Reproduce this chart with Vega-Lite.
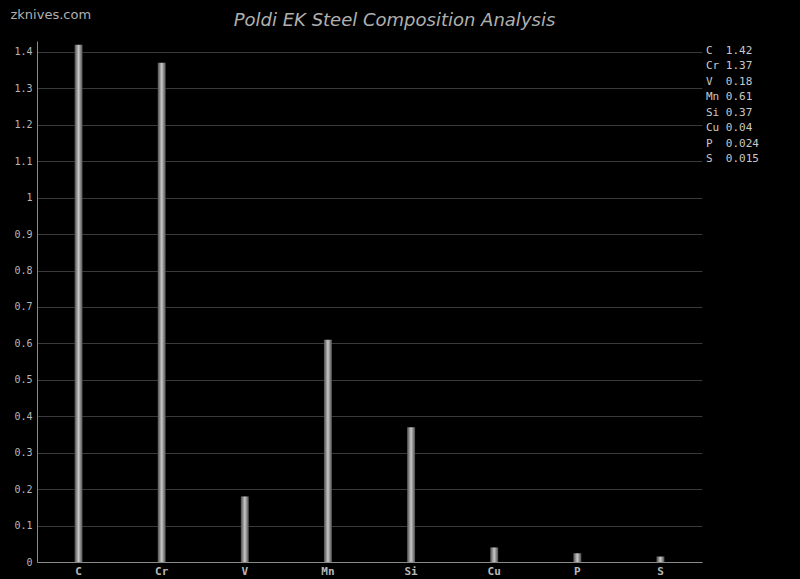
{
  "$schema": "https://vega.github.io/schema/vega-lite/v6.json",
  "width": 665,
  "height": 521,
  "autosize": {"type": "none"},
  "padding": {"left": 37, "top": 41, "right": 98, "bottom": 17},
  "background": "#000000",
  "title": {
    "text": "Poldi EK Steel Composition Analysis",
    "font": "DejaVu Sans",
    "fontStyle": "italic",
    "fontWeight": "normal",
    "fontSize": 18,
    "color": "#b0b0b0",
    "anchor": "middle",
    "frame": "group",
    "dx": 25,
    "offset": -22
  },
  "config": {
    "view": {"stroke": null},
    "axis": {
      "labelFont": "DejaVu Sans Mono",
      "labelColor": "#b8b8b8",
      "domainColor": "#8a8a8a",
      "gridColor": "#3a3a3a",
      "tickSize": 0
    }
  },
  "data": {
    "values": [
      {"element": "C", "value": 1.42, "label": "C\u00a0\u00a01.42"},
      {"element": "Cr", "value": 1.37, "label": "Cr\u00a01.37"},
      {"element": "V", "value": 0.18, "label": "V\u00a0\u00a00.18"},
      {"element": "Mn", "value": 0.61, "label": "Mn\u00a00.61"},
      {"element": "Si", "value": 0.37, "label": "Si\u00a00.37"},
      {"element": "Cu", "value": 0.04, "label": "Cu\u00a00.04"},
      {"element": "P", "value": 0.024, "label": "P\u00a0\u00a00.024"},
      {"element": "S", "value": 0.015, "label": "S\u00a0\u00a00.015"}
    ]
  },
  "encoding": {
    "x": {
      "field": "element",
      "type": "nominal",
      "sort": null,
      "scale": {"paddingInner": 0, "paddingOuter": 0},
      "axis": {
        "title": null,
        "labelAngle": 0,
        "labelFontSize": 11,
        "labelFontWeight": "bold",
        "labelPadding": 3,
        "grid": false
      }
    },
    "y": {
      "field": "value",
      "type": "quantitative",
      "scale": {"domain": [0, 1.43], "nice": false},
      "axis": {
        "title": "zknives.com",
        "titleAngle": 0,
        "titleAlign": "left",
        "titleBaseline": "alphabetic",
        "titleX": -27,
        "titleY": -23,
        "titleFont": "DejaVu Sans",
        "titleFontSize": 13,
        "titleFontWeight": "normal",
        "titleColor": "#b0b0b0",
        "values": [0, 0.1, 0.2, 0.3, 0.4, 0.5, 0.6, 0.7, 0.8, 0.9, 1, 1.1, 1.2, 1.3, 1.4],
        "format": ".1~f",
        "labelFontSize": 10,
        "labelPadding": 5,
        "grid": true
      }
    }
  },
  "layer": [
    {
      "mark": {
        "type": "bar",
        "width": 8,
        "color": {
          "gradient": "linear",
          "x1": 0, "y1": 0, "x2": 1, "y2": 0,
          "stops": [
            {"offset": 0, "color": "#4a4a4a"},
            {"offset": 0.5, "color": "#c8c8c8"},
            {"offset": 1, "color": "#4a4a4a"}
          ]
        }
      }
    },
    {
      "mark": {"type": "point", "opacity": 0},
      "encoding": {
        "shape": {
          "field": "label",
          "type": "nominal",
          "sort": null,
          "legend": {
            "title": null,
            "orient": "right",
            "offset": -11,
            "padding": 4,
            "symbolSize": 0,
            "symbolOpacity": 0,
            "symbolStrokeWidth": 0,
            "labelOffset": 0,
            "labelFont": "DejaVu Sans Mono",
            "labelFontSize": 11,
            "labelColor": "#c8c8c8",
            "rowPadding": 3.5
          }
        }
      }
    }
  ]
}
